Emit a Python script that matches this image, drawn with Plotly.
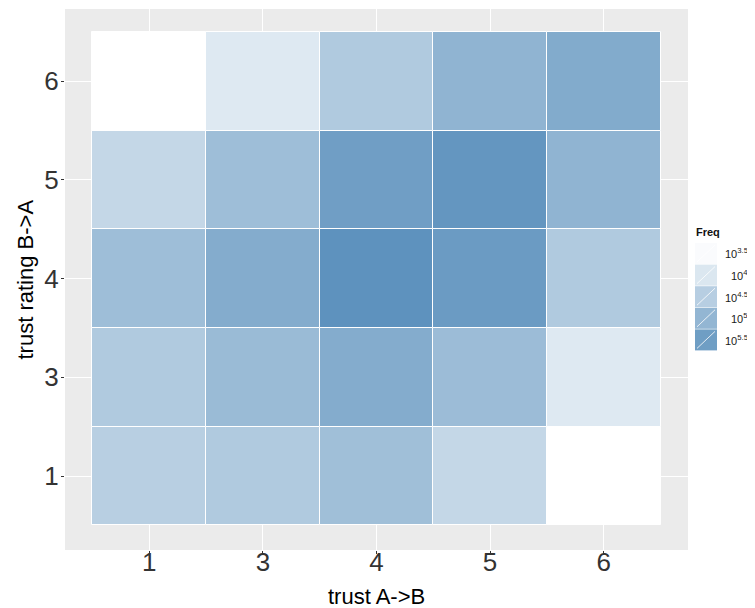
import plotly.graph_objects as go

# ---- data ----
x_labels = ["1", "3", "4", "5", "6"]          # trust A->B
y_labels = ["1", "3", "4", "5", "6"]          # trust rating B->A
# log10(Freq) per row (y), columns follow x_labels
log_freq_y1 = [4.48, 4.59, 4.82, 4.32, 3.50]
log_freq_y3 = [4.59, 4.90, 5.20, 4.87, 3.96]
log_freq_y4 = [4.84, 5.20, 5.73, 5.55, 4.59]
log_freq_y5 = [4.32, 4.84, 5.48, 5.65, 5.04]
log_freq_y6 = [3.50, 3.96, 4.59, 5.04, 5.23]
legend_levels = [3.5, 4.0, 4.5, 5.0, 5.5]
legend_text = ["3.5", "4", "4.5", "5", "5.5"]

rows = [log_freq_y1, log_freq_y3, log_freq_y4, log_freq_y5, log_freq_y6]

BASE = (70, 130, 180)  # steelblue


def fill(L):
    a = max(0.0, min(1.0, (L - 3.5) * 0.39))
    r, g, b = (round(255 - a * (255 - c)) for c in BASE)
    return f"rgb({r},{g},{b})"


fig = go.Figure()
for j, row in enumerate(rows):
    fig.add_trace(go.Bar(
        x=list(range(len(x_labels))),
        y=[1] * len(row),
        base=[j - 0.5] * len(row),
        width=1,
        marker=dict(color=[fill(v) for v in row], line=dict(color="white", width=1)),
        customdata=[[10 ** v] for v in row],
        hovertemplate="x=%{x}<br>Freq=%{customdata[0]:.0f}<extra></extra>",
        showlegend=False,
    ))

# page body has an 8px margin -> figure drawn at (8, 8) in the window
OFF = 8
W, H = 755 - OFF, 608 - OFF
# panel in window pixels
L_, R_, T_, B_ = 65, 688, 9, 550
pw, ph = R_ - L_, B_ - T_


def px(xw):
    return (xw - L_) / pw


def py(yw):
    return (B_ - yw) / ph


FONT = "Liberation Sans, Arial"
shapes = []
annotations = []
annotations.append(dict(x=px(694), y=py(232), xref="paper", yref="paper", text="<b>Freq</b>",
                        showarrow=False, xanchor="left", yanchor="middle",
                        font=dict(size=11, color="#111111", family=FONT)))
key_w, key_h, gap = 22, 21, 0.6
for i, (lv, lt) in enumerate(zip(legend_levels, legend_text)):
    y0 = 243 + i * (key_h + gap)
    y1 = y0 + key_h
    c = fill(lv) if i > 0 else "rgb(250,251,253)"
    shapes.append(dict(type="rect", xref="paper", yref="paper",
                       x0=px(695), x1=px(695 + key_w), y0=py(y1), y1=py(y0),
                       fillcolor=c, line=dict(width=0), layer="above"))
    shapes.append(dict(type="line", xref="paper", yref="paper",
                       x0=px(697), x1=px(695 + key_w - 2), y0=py(y1 - 2), y1=py(y0 + 2),
                       line=dict(color="rgba(255,255,255,0.8)", width=1), layer="above"))
    annotations.append(dict(x=px(750), y=py((y0 + y1) / 2), xref="paper", yref="paper",
                            text=f"10<sup>{lt}</sup>", showarrow=False,
                            xanchor="right", yanchor="middle",
                            font=dict(size=11, color="#1a1a1a", family=FONT)))

# axis titles
annotations.append(dict(x=0.5, y=py(596), xref="paper", yref="paper", text="trust A->B",
                        showarrow=False, xanchor="center", yanchor="middle",
                        font=dict(size=22, color="black", family=FONT)))
annotations.append(dict(x=px(25), y=0.5, xref="paper", yref="paper", text="trust rating B->A",
                        showarrow=False, xanchor="center", yanchor="middle", textangle=-90,
                        font=dict(size=22, color="black", family=FONT)))

fig.update_layout(
    width=W, height=H,
    margin=dict(l=L_ - OFF, r=W - (R_ - OFF), t=T_ - OFF, b=H - (B_ - OFF), pad=0, autoexpand=False),
    paper_bgcolor="white",
    plot_bgcolor="#EBEBEB",
    barmode="overlay",
    bargap=0,
    shapes=shapes,
    annotations=annotations,
    font=dict(family=FONT, color="#333333"),
    showlegend=False,
)
fig.update_xaxes(
    automargin=False,
    range=[-0.742, 4.742],
    tickvals=list(range(len(x_labels))), ticktext=x_labels,
    showgrid=True, gridcolor="white", gridwidth=1.2, zeroline=False,
    ticks="outside", ticklen=3, tickcolor="#333333",
    tickfont=dict(size=26, color="#333333"),
    ticklabelstandoff=-14,
    showline=False,
)
fig.update_yaxes(
    automargin=False,
    range=[-0.75, 4.733],
    tickvals=list(range(len(y_labels))), ticktext=y_labels,
    showgrid=True, gridcolor="white", gridwidth=1.2, zeroline=False,
    ticks="outside", ticklen=3, tickcolor="#333333",
    tickfont=dict(size=26, color="#333333"),
    ticklabelstandoff=-3,
    showline=False,
)

fig.write_html("out.html")
